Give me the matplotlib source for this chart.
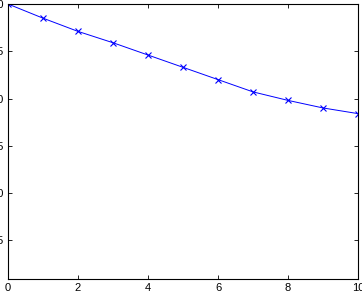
import numpy as np
import matplotlib
matplotlib.use("Agg")
import matplotlib.pyplot as plt

# values
epochs = [0, 1, 2, 3, 4, 5, 6, 7, 8, 9, 10]
accuracy = [100.0, 98.5, 97.1, 95.9, 94.6, 93.3, 92.0, 90.7, 89.8, 89.0, 88.4]
x_ticks = [0, 2, 4, 6, 8, 10]
y_ticks = [75, 80, 85, 90, 95, 100]

plt.rcParams["font.family"] = ["Liberation Sans", "DejaVu Sans"]

fig = plt.figure(figsize=(3.62, 2.91), dpi=100)
ax = fig.add_axes([8 / 362, 12 / 291, 350 / 362, 275 / 291])

ax.plot(epochs, accuracy, color="#0000ff", linewidth=0.7,
        marker="x", markersize=4, markeredgewidth=0.8)

ax.set_xlim(0, 10)
ax.set_ylim(70.9, 100)
ax.set_xticks(x_ticks)
ax.set_yticks(y_ticks)
ax.tick_params(direction="in", length=3, width=0.6, labelsize=8,
               top=True, right=True, pad=3)
for side in ax.spines.values():
    side.set_linewidth(0.8)

fig.savefig("out.png", dpi=100)
